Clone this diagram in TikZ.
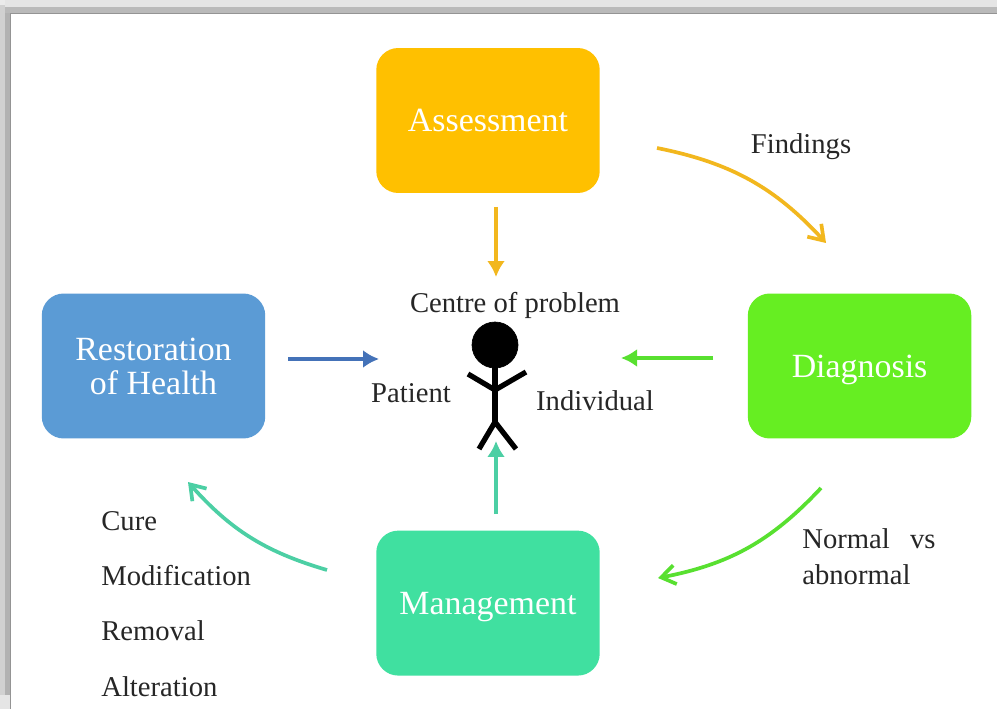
\documentclass[tikz,border=0pt]{standalone}
\usepackage{fontspec}
\setmainfont{Liberation Serif}
\usetikzlibrary{positioning}
\usetikzlibrary{arrows.meta}
\definecolor{amber}{HTML}{FFC000}
\definecolor{leaf}{HTML}{66EE22}
\definecolor{sky}{HTML}{5B9BD5}
\definecolor{mint}{HTML}{40E0A0}
\definecolor{amberline}{HTML}{F2B71E}
\definecolor{leafline}{HTML}{58E030}
\definecolor{skyline}{HTML}{4472B8}
\definecolor{mintline}{HTML}{4CCFA4}
\tikzset{
    stagebox/.style={draw=none, rounded corners=0.44cm, minimum width=4.47cm, minimum height=2.9cm,
        align=center, text=white, text depth=0pt, font=\fontsize{19.3}{19.4}\selectfont},
    caption/.style={inner sep=0pt, text=black!85, text depth=0pt, font=\fontsize{16.3}{20.5}\selectfont},
    listitem/.style={caption, text height=0.4cm, text depth=0.12cm},
    straightline/.style={line width=2pt, -{Latex[length=0.32cm, width=0.36cm]}},
    curveline/.style={line width=2.1pt, -{Straight Barb[length=0.28cm, width=0.38cm]}},
    stick/.style={draw=black, line width=3pt, -}
}
\begin{document}
\begin{tikzpicture}[x=0.02cm, y=-0.02cm]
    \useasboundingbox (0,0) rectangle (997,709);
    \fill[white] (0,0) rectangle (997,709);

    \fill[black!10] (0,0) rectangle (997,7);
    \fill[black!27] (0,7) rectangle (997,13);
    \fill[black!42] (10,13) rectangle (997,14);
    \fill[black!18] (0,5) rectangle (5,709);
    \fill[black!30] (5,13) rectangle (10,709);
    \fill[black!42] (10,13) rectangle (11,709);
    \fill[black!8] (0,0) rectangle (5,5);
    \fill[black!10] (0,695) rectangle (10,709);

    \node[stagebox, fill=amber] (assessment) at (488,120.5) {Assessment};
    \node[stagebox, fill=mint, below=6.74cm of assessment] (management) {Management};
    \node[stagebox, fill=sky] (restoration) at (153.5,366) {Restoration\\of Health};
    \node[stagebox, fill=leaf, right=9.64cm of restoration] (diagnosis) {Diagnosis};

    \node[caption] (findings) at (801,144) {Findings};
    \node[caption] (centre) at (515,302) {Centre of problem};
    \node[caption] (patient) at (411,393) {Patient};
    \node[caption] (individual) at (595,401) {Individual};
    \node[caption, align=left, anchor=west] (normal) at (802,557) {Normal\hspace{11.5pt}vs\\abnormal};

    \node[listitem, anchor=west] (cure) at (101,523.5) {Cure};
    \node[listitem, below=0.57cm of cure.south west, anchor=north west] (modification) {Modification};
    \node[listitem, below=0.57cm of modification.south west, anchor=north west] (removal) {Removal};
    \node[listitem, below=0.57cm of removal.south west, anchor=north west] (alteration) {Alteration};

    \node[draw=black, fill=black, circle, inner sep=0pt, minimum size=0.92cm] (head) at (495,345) {};
    \coordinate (neck) at (495,367);
    \coordinate (waist) at (495,390);
    \coordinate (hip) at (495,422);
    \coordinate (lefthand) at (468,374);
    \coordinate (righthand) at (526,372);
    \coordinate (leftfoot) at (479,449);
    \coordinate (rightfoot) at (516,449);
    \draw[stick] (neck) -- (hip);
    \draw[stick] (lefthand) -- (waist) -- (righthand);
    \draw[stick] (leftfoot) -- (hip) -- (rightfoot);

    \coordinate (topstart) at (496,207);
    \coordinate (topend) at (496,277);
    \coordinate (leftstart) at (288,359);
    \coordinate (leftend) at (379,359);
    \coordinate (rightstart) at (713,358);
    \coordinate (rightend) at (621,358);
    \coordinate (bottomstart) at (496,514);
    \coordinate (bottomend) at (496,441);
    \draw[straightline, amberline] (topstart) -- (topend);
    \draw[straightline, skyline] (leftstart) -- (leftend);
    \draw[straightline, leafline] (rightstart) -- (rightend);
    \draw[straightline, mintline] (bottomstart) -- (bottomend);

    \coordinate (findstart) at (657,148);
    \coordinate (findend) at (826,243);
    \coordinate (normalstart) at (821,488);
    \coordinate (normalend) at (658,578);
    \coordinate (curestart) at (327,570);
    \coordinate (cureend) at (188,482);
    \draw[curveline, amberline] (findstart) to[bend left=18] (findend);
    \draw[curveline, leafline] (normalstart) to[bend left=18] (normalend);
    \draw[curveline, mintline] (curestart) to[bend left=16] (cureend);
\end{tikzpicture}
\end{document}
